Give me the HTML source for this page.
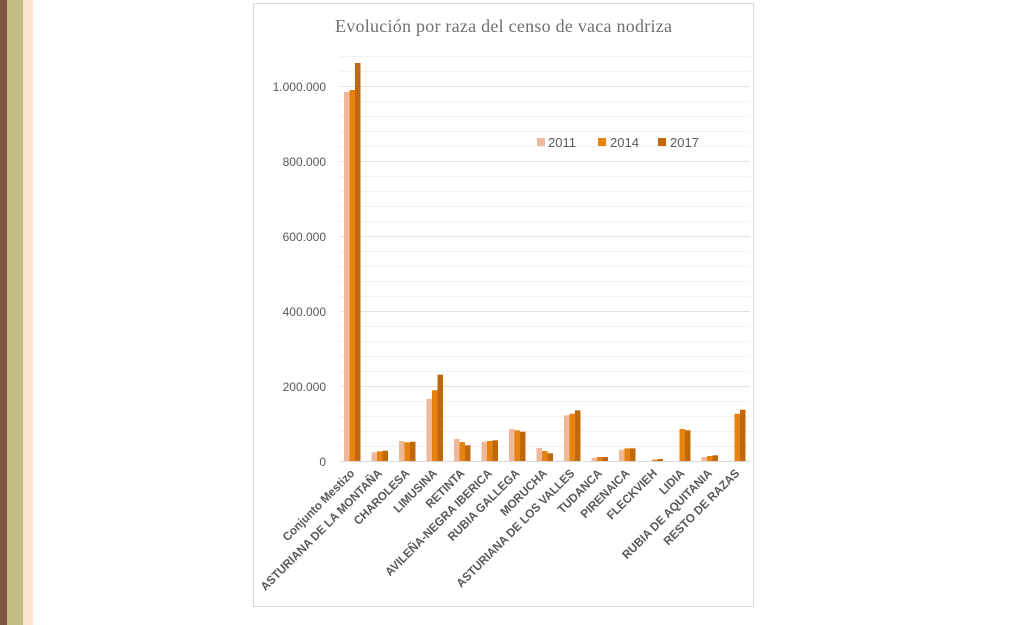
<!DOCTYPE html>
<html><head><meta charset="utf-8"><style>
html,body{margin:0;padding:0;background:#fff;width:1024px;height:625px;overflow:hidden}
</style></head><body>
<svg width="1024" height="625" xmlns="http://www.w3.org/2000/svg" font-family="Liberation Sans, sans-serif">
<rect x="0" y="0" width="7" height="625" fill="#7e5645"/>
<rect x="7" y="0" width="16" height="625" fill="#c4bc85"/>
<rect x="23" y="0" width="10" height="625" fill="#fbe6cd"/>
<rect x="253.5" y="3.5" width="500" height="603" fill="#fff" stroke="#d9d9d9"/>
<text x="335" y="32" font-family="Liberation Serif, serif" font-size="18" fill="#707070" textLength="337">Evolución por raza del censo de vaca nodriza</text>
<g id="grid" stroke="#efefef" stroke-width="1"></g>
<g font-size="12" fill="#595959" text-anchor="end">
<text x="326" y="466">0</text>
<text x="326" y="391">200.000</text>
<text x="326" y="316">400.000</text>
<text x="326" y="241">600.000</text>
<text x="326" y="166">800.000</text>
<text x="326" y="91">1.000.000</text>
</g>
<g id="bars"></g>
<g id="labels" font-size="12" font-weight="bold" fill="#595959" text-anchor="end"></g>
<g font-size="13" fill="#595959">
<rect x="537" y="138" width="8" height="8" fill="#f0b89a"/><text x="548" y="147">2011</text>
<rect x="598" y="138" width="8" height="8" fill="#e8820e"/><text x="610" y="147">2014</text>
<rect x="658" y="138" width="8" height="8" fill="#c0680c"/><text x="670" y="147">2017</text>
</g>
</svg>
<script>
var ns="http://www.w3.org/2000/svg";
function el(t,a,p){var e=document.createElementNS(ns,t);for(var k in a)e.setAttribute(k,a[k]);document.getElementById(p).appendChild(e);return e;}
for(var y=461;y>=56;y-=15){el("line",{x1:340,x2:750,y1:y+0.5,y2:y+0.5,stroke:((461-y)%75==0)?"#e3e3e3":"#f2f2f2"},"grid");}
var d=[[369,371,398],[8.7,9.7,10.3],[20,18.7,19.3],[62,70.7,86.3],[22,19,15.7],[19.3,20,20.7],[32,30.7,29.3],[13,10,7.7],[45.7,47.3,50.7],[3.3,4,4],[11.3,12.7,12.7],[0,1.3,2],[0,32,30.7],[4,5,5.7],[0,47.3,51.3]];
var names=["Conjunto Mestizo","ASTURIANA DE LA MONTAÑA","CHAROLESA","LIMUSINA","RETINTA","AVILEÑA-NEGRA IBERICA","RUBIA GALLEGA","MORUCHA","ASTURIANA DE LOS VALLES","TUDANCA","PIRENAICA","FLECKVIEH","LIDIA","RUBIA DE AQUITANIA","RESTO DE RAZAS"];
var cols=["#f0b89a","#e8820e","#c0680c"];
for(var i=0;i<15;i++){var x0=344+i*27.5;
for(var j=0;j<3;j++){var h=d[i][j];if(h>0)el("rect",{x:x0+j*5.5,y:461-h,width:5.5,height:h,fill:cols[j]},"bars");}
var cx=x0+8.25+3;var t=el("text",{x:cx,y:474,transform:"rotate(-45 "+cx+" 474)"},"labels");t.textContent=names[i];
var L=t.getComputedTextLength();t.setAttribute("textLength",(L*0.96).toFixed(1));t.setAttribute("lengthAdjust","spacingAndGlyphs");}
el("line",{x1:340,x2:750,y1:461.5,y2:461.5,stroke:"#d9d9d9"},"grid");
</script>
</body></html>
